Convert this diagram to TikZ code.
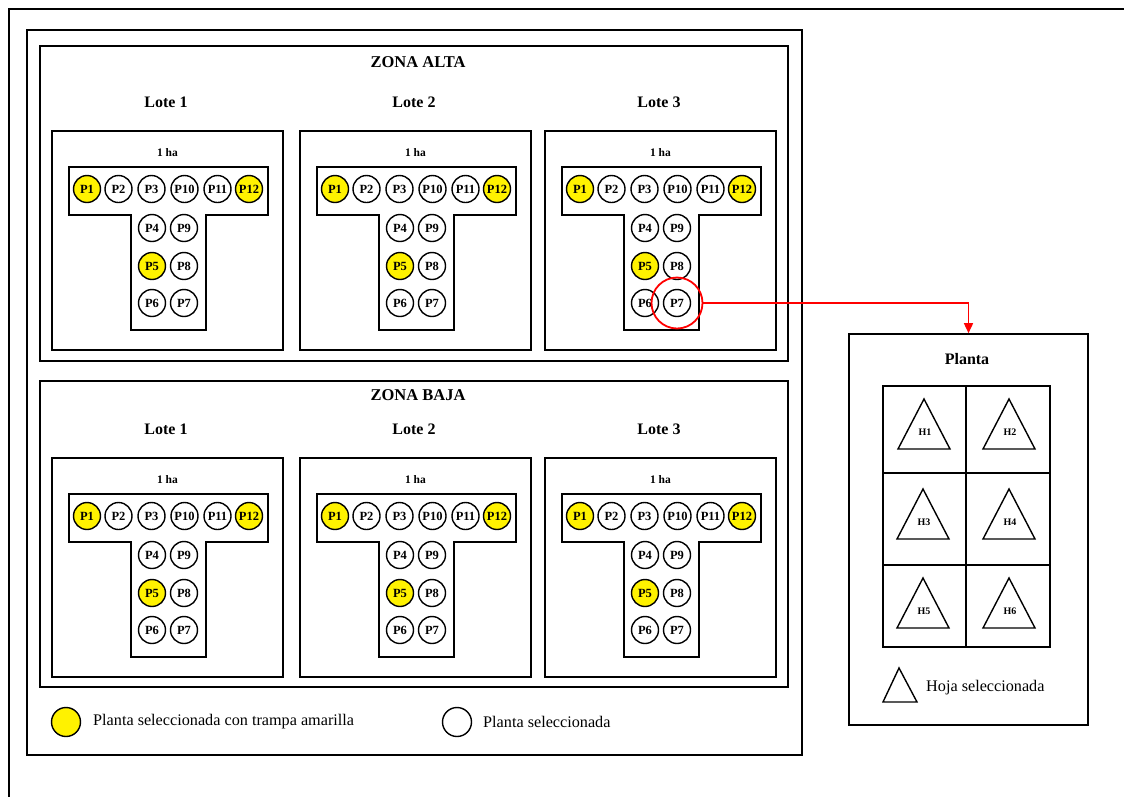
\documentclass[tikz,border=0pt]{standalone}
\usepackage{fontspec}
\setmainfont{Liberation Serif}
\usetikzlibrary{arrows.meta}

\tikzset{
  frame/.style={draw, line width=1.6pt},
  box/.style={frame, rectangle, inner sep=0pt},
  plant/.style={circle, draw, line width=1.4pt, minimum size=27pt, inner sep=0pt,
    font=\fontsize{12.5}{12.5}\selectfont\bfseries},
  trap/.style={plant, fill=yellow},
  lotebox/.style={box, minimum width=231pt, minimum height=219pt},
  lotetitle/.style={font=\fontsize{16}{16}\selectfont\bfseries},
  zonetitle/.style={font=\fontsize{16.5}{16.5}\selectfont\bfseries},
  hatext/.style={font=\fontsize{11.5}{11.5}\selectfont\bfseries},
  leaf/.style={draw, line width=1.4pt, line join=miter},
  leaflabel/.style={font=\fontsize{10}{10}\selectfont\bfseries, inner sep=0pt},
  legendtext/.style={anchor=west, inner sep=0pt, font=\fontsize{16.2}{16.2}\selectfont},
  selring/.style={circle, draw=red, line width=1.8pt, minimum size=51pt, inner sep=0pt},
  link/.style={draw=red, line width=1.5pt, -{Triangle[width=9pt,length=10pt]}}
}

% One plot of 1 ha: frame, title, T-shaped sampling area and its twelve plants
\newcommand\lotedraw[4]{%
  \begin{scope}[shift={(#2,#3)}]
    \node[lotebox] (#1) at (115.5,109.5) {};
    \node[lotetitle] (#1-title) at (114,-29) {#4};
    \node[hatext] (#1-ha) at (115.5,21.5) {1 ha};
    \draw[frame] (17,36) -- (216,36) -- (216,84) -- (154,84) -- (154,199)
      -- (79,199) -- (79,84) -- (17,84) -- cycle;
    \foreach \n/\px/\py/\s in {P1/35/58/trap, P2/66.5/58/plant, P3/99.5/58/plant,
        P10/132.5/58/plant, P11/165.5/58/plant, P12/197/58/trap,
        P4/100/97/plant, P9/132/97/plant, P5/100/135/trap, P8/132/135/plant,
        P6/100/172/plant, P7/132/172/plant}
      {\node[\s] (#1-\n) at (\px,\py) {\n};}
  \end{scope}}

% A leaf marker with its label
\newcommand\leafdraw[4]{%
  \draw[leaf] (#2,#3) -- (#2+26,#3+50) -- (#2-26,#3+50) -- cycle;
  \node[leaflabel] (#1) at (#2+1,#3+33) {#4};}

\begin{document}
\begin{tikzpicture}[x=1pt, y=-1pt]
  \useasboundingbox (0,0) rectangle (1124,796);
  \clip (0,0) rectangle (1124,796);

  % page frame
  \draw[line width=1.6pt] (9,810) -- (9,9) -- (1140,9);

  % field
  \node[box, minimum width=775pt, minimum height=725pt] (field) at (414.5,392.5) {};

  % upper zone
  \node[box, minimum width=748pt, minimum height=315pt] (alta) at (414,203.5) {};
  \node[zonetitle] (alta-title) at (418,62) {ZONA ALTA};
  \lotedraw{alta-l1}{52}{131}{Lote 1}
  \lotedraw{alta-l2}{300}{131}{Lote 2}
  \lotedraw{alta-l3}{545}{131}{Lote 3}

  % lower zone
  \node[box, minimum width=748pt, minimum height=306pt] (baja) at (414,534) {};
  \node[zonetitle] (baja-title) at (418,395) {ZONA BAJA};
  \lotedraw{baja-l1}{52}{458}{Lote 1}
  \lotedraw{baja-l2}{300}{458}{Lote 2}
  \lotedraw{baja-l3}{545}{458}{Lote 3}

  % legend of the field
  \node[trap, minimum size=29pt] (key-trap) at (66,722) {};
  \node[legendtext] (key-trap-text) at (93,722) {Planta seleccionada con trampa amarilla};
  \node[plant, minimum size=29pt] (key-plant) at (457,722) {};
  \node[legendtext] (key-plant-text) at (483,722) {Planta seleccionada};

  % detail of one plant
  \node[box, minimum width=239pt, minimum height=391pt] (planta) at (968.5,529.5) {};
  \node[lotetitle] (planta-title) at (967,359) {Planta};
  \draw[frame] (883,386) rectangle (1050,647);
  \draw[frame] (966,386) -- (966,647);
  \draw[frame] (883,473) -- (1050,473);
  \draw[frame] (883,565) -- (1050,565);
  \leafdraw{h1}{924}{399}{H1}
  \leafdraw{h2}{1009}{399}{H2}
  \leafdraw{h3}{923}{489}{H3}
  \leafdraw{h4}{1009}{489}{H4}
  \leafdraw{h5}{923}{578}{H5}
  \leafdraw{h6}{1009}{578}{H6}
  \draw[leaf] (899,668) -- (917,702) -- (883,702) -- cycle;
  \node[legendtext] (key-leaf-text) at (926,688) {Hoja seleccionada};

  % selected plant and link to its detail
  \node[selring] (sel) at (alta-l3-P7) {};
  \draw[link] (sel.east) -| (planta.north);
\end{tikzpicture}
\end{document}
